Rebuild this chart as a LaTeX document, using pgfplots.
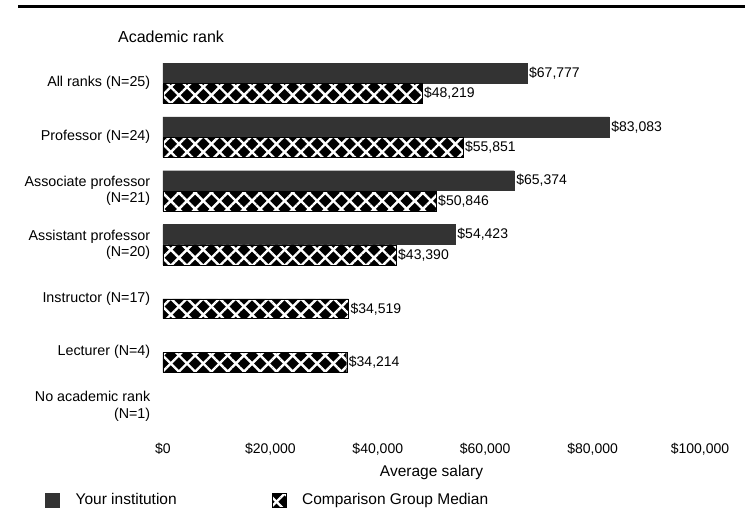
\documentclass[border=0pt]{standalone}
\usepackage{fontspec}
\setmainfont{Liberation Sans}
\usepackage{pgfplots}
\usepackage{pgfplotstable}
\pgfplotsset{compat=1.18}
\usetikzlibrary{patterns.meta}

\pgfplotstableread{
idx val
0 67777
1 83083
2 65374
3 54423
}\insttable
\pgfplotstableread{
idx val
0 48219
1 55851
2 50846
3 43390
4 34519
5 34214
}\comptable

\tikzset{
  hatchbar/.style={fill=black, draw=black, line width=0.4pt,
    postaction={pattern={Lines[angle=45,distance=11.5pt,line width=2.4pt]}, pattern color=white},
    postaction={pattern={Lines[angle=-45,distance=11.5pt,line width=2.4pt]}, pattern color=white}},
  darkbar/.style={fill=black!80, draw=black!80, line width=0.4pt}
}

\begin{document}
\begin{tikzpicture}
\useasboundingbox (0,0) rectangle (745pt,518pt);
\draw[line width=3pt] (18pt,511pt) -- (745pt,511pt);
\begin{axis}[
  at={(163pt,85pt)}, anchor=south west,
  scale only axis, width=537pt, height=376.6pt,
  xmin=0, xmax=100000, ymin=-0.5, ymax=6.5, y dir=reverse,
  axis line style={draw=none}, tick style={draw=none},
  xtick={0,20000,40000,60000,80000,100000},
  xticklabels={{\$0},{\$20,000},{\$40,000},{\$60,000},{\$80,000},{\$100,000}},
  xticklabel style={font=\fontsize{14}{16}\selectfont, yshift=-7pt},
  scaled x ticks=false,
  ytick={0,1,2,3,4,5,6},
  yticklabels={{All ranks (N=25)},{Professor (N=24)},{Associate professor\\(N=21)},{Assistant professor\\(N=20)},{Instructor (N=17)},{Lecturer (N=4)},{No academic rank\\(N=1)}},
  yticklabel style={align=right, font=\fontsize{14.3}{16.5}\selectfont, xshift=-5pt},
  xlabel={Average salary},
  xlabel style={at={(axis description cs:0.5,-0.106)}, anchor=center, font=\fontsize{15.5}{18}\selectfont},
  xbar, bar width=0.37,
  point meta=x,
  nodes near coords={\$\pgfmathprintnumber[fixed,precision=0,1000 sep={,},assume math mode=true]{\pgfplotspointmeta}},
  nodes near coords style={font=\fontsize{14}{16}\selectfont, anchor=west, inner sep=2pt},
  legend columns=2,
  legend style={at={(axis description cs:-0.2197,-0.178)}, anchor=west, draw=none, fill=none, inner sep=0pt,
    font=\fontsize{15.5}{18}\selectfont,
    /tikz/every odd column/.append style={column sep=14pt},
    /tikz/every even column/.append style={column sep=93pt}},
  legend cell align=left,
  legend image code/.code={\draw[#1] (0pt,-7pt) rectangle (14pt,7pt);},
  clip=false,
]
\addplot[darkbar, bar shift=-0.19] table[x=val, y=idx] {\insttable};
\addlegendentry{Your institution}
\addplot[hatchbar, bar shift=0.19] table[x=val, y=idx] {\comptable};
\addlegendentry{Comparison Group Median}
\node[font=\fontsize{16}{19}\selectfont] at (axis description cs:0.015,1.0515) {Academic rank};
\end{axis}
\end{tikzpicture}
\end{document}
